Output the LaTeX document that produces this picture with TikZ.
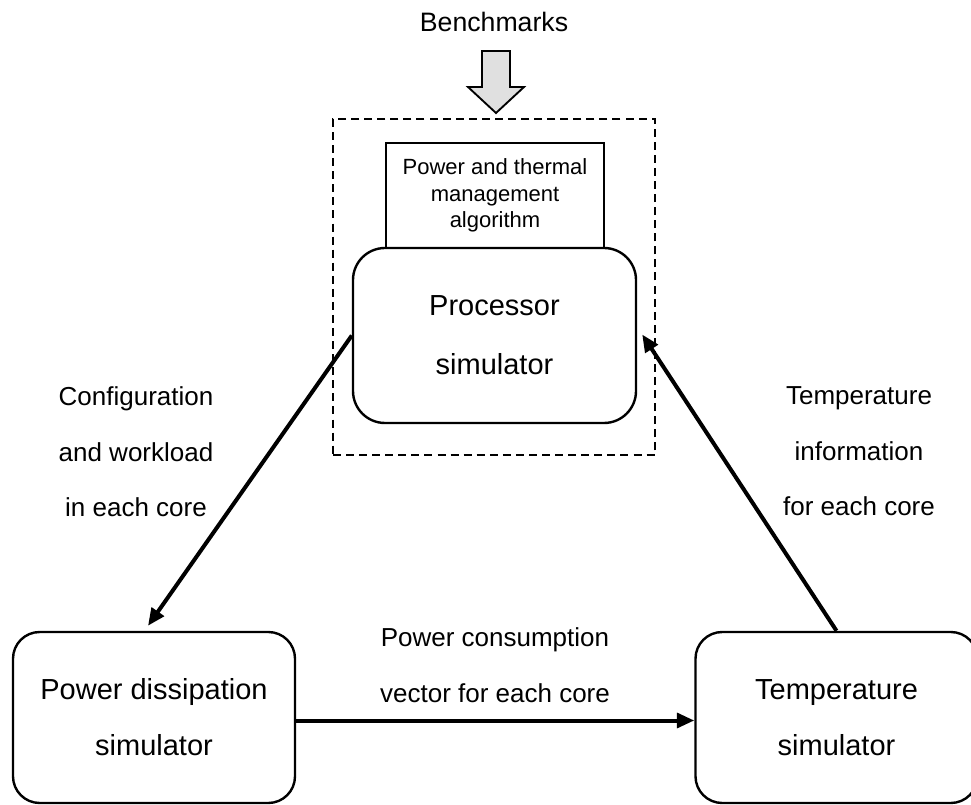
\documentclass[tikz,border=0pt]{standalone}
\usepackage{fontspec}
\setmainfont{Liberation Sans}
\usetikzlibrary{arrows.meta,calc}
\begin{document}
\begin{tikzpicture}[x=0.75pt,y=-0.75pt,
  simbox/.style={draw,line width=1.8pt,fill=white,align=center,inner sep=0pt,
    font=\fontsize{21.75}{44}\selectfont},
  algbox/.style={draw,line width=2pt,fill=white,align=center,inner sep=0pt,
    minimum width=163.5pt,minimum height=78.75pt,font=\fontsize{16.5}{20}\selectfont},
  lbl/.style={align=center,inner sep=0pt,font=\fontsize{19.5}{41.6}\selectfont},
  frame/.style={draw,line width=1.1pt,dash pattern=on 6pt off 3.8pt,
    minimum width=241.5pt,minimum height=252pt,inner sep=0pt},
  flow/.style={line width=3pt,-{Triangle[length=13pt,width=11pt]}},
  bench/.style={draw,line width=1.4pt,fill=black!12,line join=miter}]
\useasboundingbox (0,0) rectangle (971,805);
\clip (0,0) rectangle (971,805);

% benchmarks
\node[font=\fontsize{20}{24}\selectfont,anchor=base,inner sep=0pt] (bm) at (494,32) {Benchmarks};
\draw[bench] (482,51) -- (510,51) -- (510,87) -- (524,87) -- (496,113)
  -- (468,87) -- (482,87) -- cycle;

% dashed frame
\node[frame] (fr) at (494,287) {};

% algorithm box and processor
\node[algbox] (alg) at (495,195.5) {Power and thermal\\management\\algorithm};
\node[simbox,rounded corners=24pt,minimum width=212.25pt,minimum height=131.25pt]
  (proc) at (494.5,335.5) {Processor\\simulator};

% bottom boxes
\node[simbox,rounded corners=20pt,minimum width=211.5pt,minimum height=128.25pt,
  font=\fontsize{21.75}{42}\selectfont] (pow) at (154,717.5) {Power dissipation\\simulator};
\node[simbox,rounded corners=20pt,minimum width=211.5pt,minimum height=128.25pt,
  font=\fontsize{21.75}{42}\selectfont] (temp) at (836.5,717.5) {Temperature\\simulator};

% connectors
\draw[flow] (proc.west) -- ($(pow.north)+(-6,-5)$);
\draw[flow] (temp.north) -- ($(proc.east)+(5,-1)$);
\draw[flow] ($(pow.east)+(0,3)$) -- ($(temp.west)+(0,3)$);

% labels
\node[lbl] (lcfg) at (136,452) {Configuration\\and workload\\in each core};
\node[lbl] (ltmp) at (859,451.5) {Temperature\\information\\for each core};
\node[lbl,font=\fontsize{19.5}{42}\selectfont] (lpow) at (495,665.5) {Power consumption\\vector for each core};
\end{tikzpicture}
\end{document}
